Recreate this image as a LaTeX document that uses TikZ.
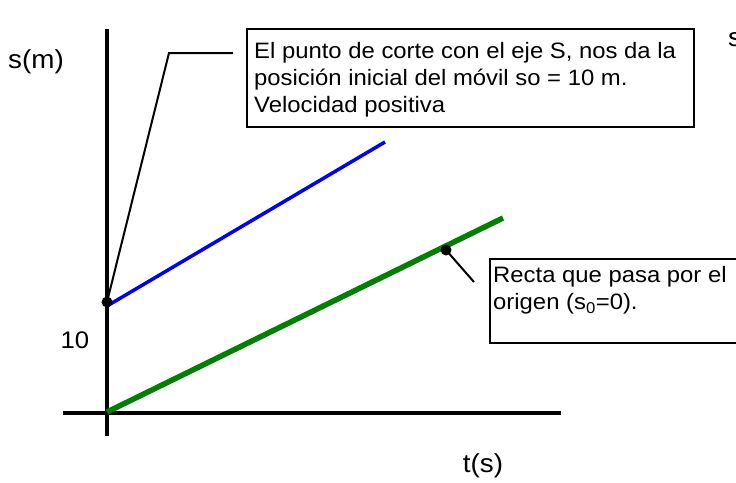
\documentclass[tikz,border=0pt]{standalone}
\usepackage{fontspec}
\setmainfont{Liberation Sans}[FakeStretch=1.07]
\begin{document}
\begin{tikzpicture}[x=1pt,y=-1pt,
  axis/.style={line width=3.2pt},
  leader/.style={line width=2pt},
  callout/.style={draw, line width=2pt},
  dotmark/.style={circle, fill=black, inner sep=0pt, minimum size=11pt},
  boxtext/.style={font=\fontsize{22.3}{27}\selectfont, inner sep=0pt, align=left, anchor=north west},
  axlabel/.style={font=\fontsize{26}{30}\selectfont, inner sep=0pt},
  numlabel/.style={font=\fontsize{24}{28}\selectfont, inner sep=0pt}]
\useasboundingbox (0,0) rectangle (736,482);
\clip (0,0) rectangle (736,482);
\fill[white] (0,0) rectangle (736,482);
% axes
\coordinate (ytop) at (107,29);
\coordinate (ybot) at (107,436);
\coordinate (xleft) at (63,413);
\coordinate (xright) at (561,413);
\draw[axis] (ytop) -- (ybot);
\draw[axis] (xleft) -- (xright);
% lines
\coordinate (b0) at (107,306);
\coordinate (b1) at (385,142);
\coordinate (g0) at (107,412);
\coordinate (g1) at (503,218);
\draw[blue, line width=3.5pt] (b0) -- (b1);
\draw[green!50!black, line width=5.5pt] (g0) -- (g1);
% callout 1
\node[dotmark] (d1) at (107,302) {};
\coordinate (k1) at (169,53);
\coordinate (k2) at (233,53);
\draw[leader] (d1.center) -- (k1) -- (k2);
\draw[callout] (247,29) rectangle (694,127);
\node[boxtext] (t1) at (254,42) {El punto de corte con el eje S, nos da la\\posición inicial del móvil so = 10 m.\\Velocidad positiva};
% callout 2
\node[dotmark] (d2) at (446,250) {};
\coordinate (k3) at (474,282);
\draw[leader] (d2.center) -- (k3);
\draw[callout] (490,259) rectangle (770,343);
\node[boxtext] (t2) at (493,266) {Recta que pasa por el\\origen (s\textsubscript{0}=0).};
% labels
\node[axlabel, anchor=west] (sm) at (8,62) {s(m)};
\node[numlabel] (ten) at (75,340) {10};
\node[axlabel] (ts) at (483,466) {t(s)};
\node[axlabel, anchor=west] (s2) at (728,40) {s};
\end{tikzpicture}
\end{document}
